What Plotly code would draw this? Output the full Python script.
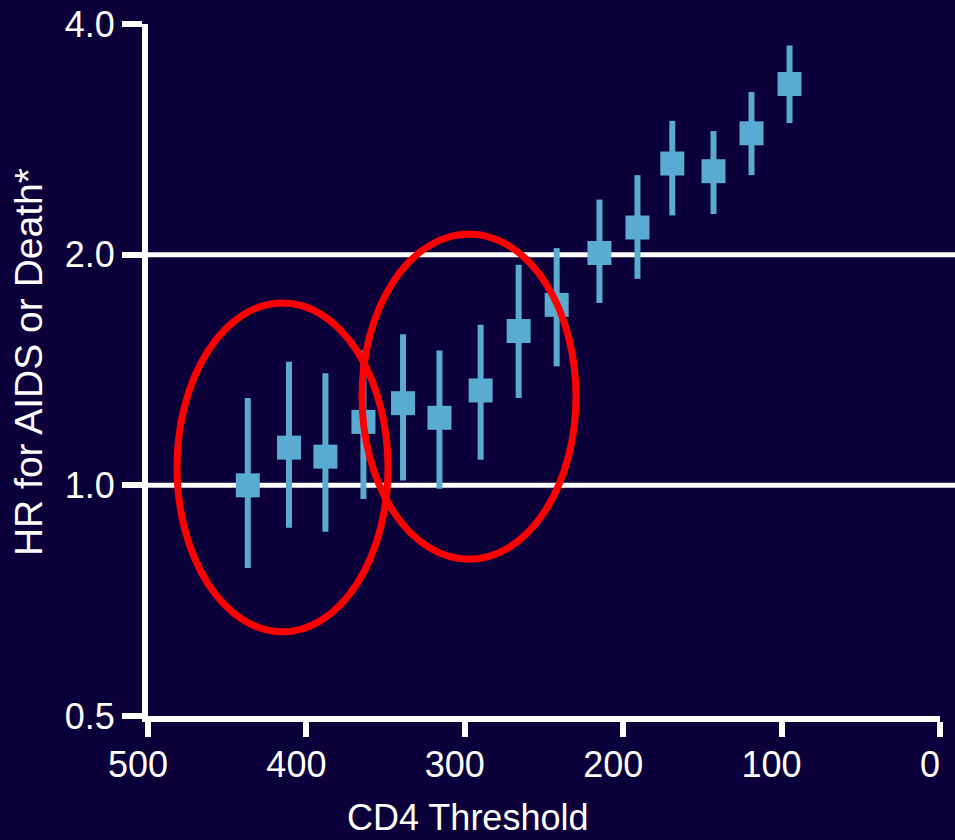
import math
import plotly.graph_objects as go

# CD4 thresholds (x) and hazard ratios with 95% CI
cd4_threshold = [437, 411, 388, 364, 339, 316, 290, 266, 242, 215, 191, 169, 143, 119, 95]
hr = [1.00, 1.12, 1.09, 1.21, 1.28, 1.225, 1.33, 1.59, 1.72, 2.01, 2.17, 2.63, 2.57, 2.88, 3.34]
hr_upper = [1.30, 1.45, 1.40, 1.50, 1.575, 1.50, 1.62, 1.94, 2.04, 2.36, 2.54, 2.99, 2.90, 3.26, 3.75]
hr_lower = [0.78, 0.88, 0.87, 0.96, 1.015, 0.99, 1.08, 1.30, 1.43, 1.73, 1.86, 2.25, 2.26, 2.54, 2.97]

x_ticks = [500, 400, 300, 200, 100, 0]
y_ticks = [0.5, 1.0, 2.0, 4.0]
y_ticktext = ["0.5", "1.0", "2.0", "4.0"]
grid_values = [1.0, 2.0]

# highlight ellipses (x range, HR range)
ellipses = [
    {"x": (481.7, 348.5), "hr": (0.644, 1.730)},
    {"x": (364.9, 229.8), "hr": (0.801, 2.128)},
]

BG = "#0b0039"
PT = "#5aabd0"
FONT = "Liberation Sans, Arial, sans-serif"

fig = go.Figure()
fig.add_trace(go.Scatter(
    x=cd4_threshold, y=hr, mode="markers",
    marker=dict(symbol="square", size=24, color=PT, line=dict(width=0)),
    error_y=dict(type="data", symmetric=False,
                 array=[u - v for u, v in zip(hr_upper, hr)],
                 arrayminus=[v - l for v, l in zip(hr, hr_lower)],
                 color=PT, thickness=6, width=0),
    showlegend=False,
))

shapes = []
for g in grid_values:
    shapes.append(dict(type="line", xref="paper", yref="y", x0=0, x1=1.02,
                       y0=g, y1=g, line=dict(color="white", width=5), layer="below"))
for e in ellipses:
    shapes.append(dict(type="circle", xref="x", yref="y",
                       x0=e["x"][0], x1=e["x"][1], y0=e["hr"][0], y1=e["hr"][1],
                       line=dict(color="#ff0000", width=7), layer="above"))

fig.update_layout(
    width=955, height=840,
    margin=dict(l=148, r=15, t=24, b=124),
    paper_bgcolor=BG, plot_bgcolor=BG,
    font=dict(family=FONT, color="white", size=36),
    shapes=shapes,
    annotations=[
        dict(text="CD4 Threshold", xref="paper", yref="paper",
             x=0.403, y=-0.1785, xanchor="center", yanchor="bottom",
             showarrow=False, font=dict(size=36, color="white", family=FONT)),
        dict(text="HR for AIDS or Death*", xref="paper", yref="paper",
             x=-0.151, y=0.512, xanchor="center", yanchor="middle", textangle=-90,
             showarrow=False, font=dict(size=39, color="white", family=FONT)),
    ],
)
fig.update_xaxes(range=[500, 0], tickvals=x_ticks, showgrid=False, zeroline=False,
                 showline=True, linecolor="white", linewidth=6, automargin=False,
                 ticks="outside", ticklen=15, tickwidth=6, tickcolor="white",
                 ticklabelstandoff=-3, ticklabelshift=10, ticklabeloverflow="allow",
                 tickfont=dict(size=36, color="white"))
fig.update_yaxes(type="log", range=[math.log10(0.5), math.log10(4)],
                 tickvals=y_ticks, ticktext=y_ticktext, showgrid=False, zeroline=False,
                 showline=True, linecolor="white", linewidth=6, automargin=False,
                 ticks="outside", ticklen=20, tickwidth=6, tickcolor="white",
                 ticklabeloverflow="allow",
                 tickfont=dict(size=36, color="white"))

page_js = (
    "document.documentElement.style.margin='0';"
    "document.documentElement.style.overflow='hidden';"
    "document.body.style.margin='0';"
    "document.body.style.overflow='hidden';"
    "document.body.style.background='" + BG + "';"
)

fig.write_html("out.html", post_script=page_js, config={"displayModeBar": False})
